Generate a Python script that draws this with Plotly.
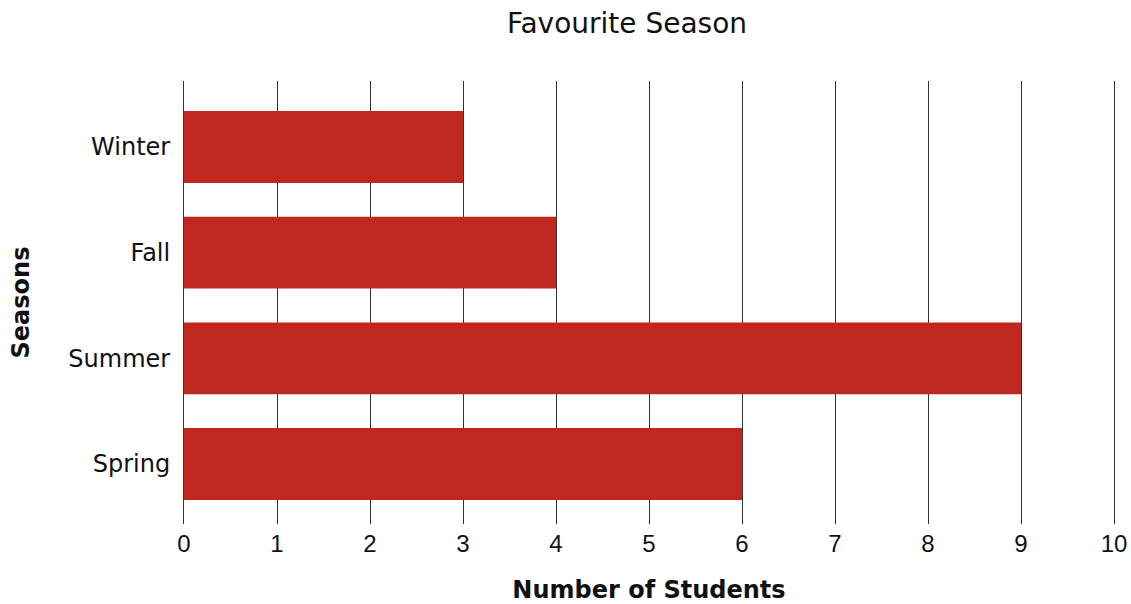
import plotly.graph_objects as go

seasons = ["Spring", "Summer", "Fall", "Winter"]
students = [6, 9, 4, 3]
x_ticks = list(range(0, 11))

BAR_COLOR = "rgb(192,39,30)"
TEXT_FONT = "Verdana, DejaVu Sans, sans-serif"
TICK_FONT = "Arial, Liberation Sans, sans-serif"
GRID = "#333"

W, H = 1131, 604

fig = go.Figure(
    go.Bar(
        x=students,
        y=seasons,
        orientation="h",
        marker=dict(color=BAR_COLOR, line=dict(width=0)),
        hoverinfo="x+y",
    )
)

fig.update_layout(
    width=W,
    height=H,
    margin=dict(l=184, r=17, t=81, b=80),
    paper_bgcolor="white",
    plot_bgcolor="white",
    bargap=0.32,
    showlegend=False,
    title=dict(
        text="Favourite Season",
        font=dict(family=TEXT_FONT, size=28, color="#111"),
        x=627 / W,
        xanchor="center",
        xref="container",
        y=1 - 23 / H,
        yanchor="middle",
        yref="container",
    ),
    xaxis=dict(
        range=[0, 10],
        tickmode="array",
        tickvals=x_ticks,
        ticktext=[str(v) for v in x_ticks],
        showgrid=True,
        gridcolor=GRID,
        gridwidth=1,
        zeroline=False,
        showline=False,
        ticks="",
        ticklabelstandoff=3,
        tickfont=dict(family=TICK_FONT, size=24, color="#111"),
        title=dict(
            text="<b>Number of Students</b>",
            font=dict(family=TEXT_FONT, size=24, color="#111"),
            standoff=37,
        ),
        automargin=False,
        fixedrange=True,
    ),
    yaxis=dict(
        type="category",
        categoryorder="array",
        categoryarray=seasons,
        range=[-0.568, 3.625],
        showgrid=False,
        zeroline=False,
        showline=True,
        mirror=True,
        linecolor=GRID,
        linewidth=1,
        ticks="",
        ticklabelstandoff=8,
        tickfont=dict(family=TEXT_FONT, size=24, color="#111"),
        title=dict(
            text="<b>Seasons</b>",
            font=dict(family=TEXT_FONT, size=24, color="#111"),
            standoff=31,
        ),
        automargin=False,
        fixedrange=True,
    ),
)

fig.write_html(
    "out.html",
    config={"displayModeBar": False, "staticPlot": False},
    post_script="document.body.style.margin='0';document.body.style.overflow='hidden';",
)
